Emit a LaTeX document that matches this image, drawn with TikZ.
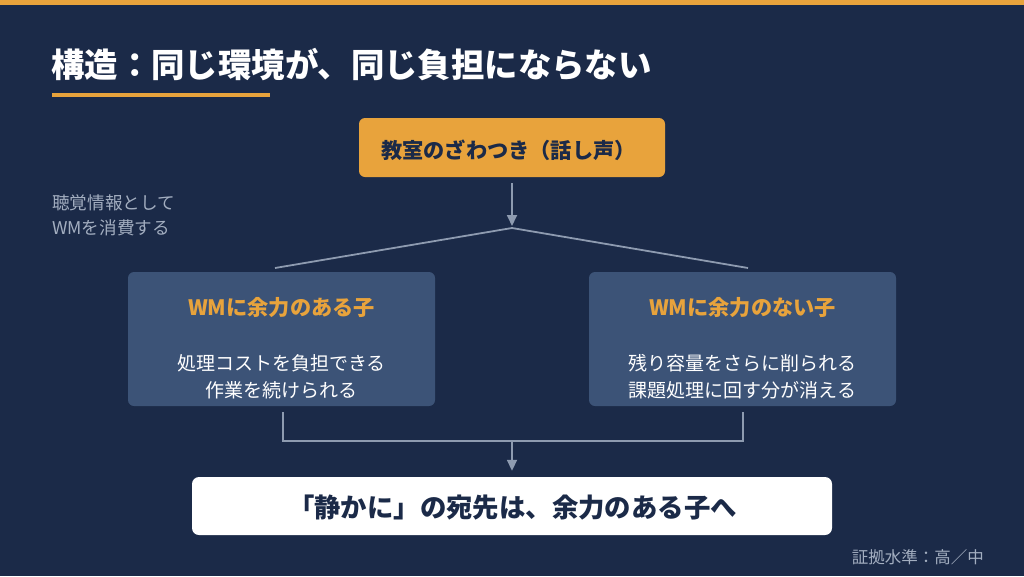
\documentclass[tikz,border=0pt]{standalone}
\usepackage{fontspec}
\setmainfont{Noto Sans CJK JP}
\newfontfamily\jp{Noto Sans CJK JP}
\usetikzlibrary{arrows.meta}
\definecolor{bgnavy}{HTML}{1B2A48}
\definecolor{accent}{HTML}{E8A33C}
\definecolor{boxblue}{HTML}{3C5377}
\definecolor{linegray}{HTML}{8E9BB0}
\definecolor{softgray}{HTML}{A3AEC0}
\tikzset{
  conn/.style={draw=linegray, line width=1.8pt},
  arr/.style={conn, -{Triangle[length=11pt,width=10pt]}},
  topbox/.style={fill=accent, rounded corners=6pt, minimum width=306pt, minimum height=59pt, inner sep=0pt},
  kidbox/.style={fill=boxblue, rounded corners=6pt, minimum width=307pt, minimum height=134pt, inner sep=0pt},
  endbox/.style={fill=white, rounded corners=7pt, minimum width=640pt, minimum height=58pt, inner sep=0pt},
  kidtitle/.style={text=accent, font=\jp\bfseries\fontsize{21.2}{24}\selectfont},
  kidbody/.style={text=white, align=center, font=\jp\fontsize{19}{27}\selectfont},
}
\begin{document}
\begin{tikzpicture}[x=1pt,y=-1pt]
\fill[bgnavy] (0,0) rectangle (1024,576);
\useasboundingbox (0,0) rectangle (1024,576);
\fill[accent] (0,0) rectangle (1024,5);
% title
\node[anchor=west, text=white, font=\jp\bfseries\fontsize{33.4}{36}\selectfont, inner sep=0pt] (title) at (51,65) {構造：同じ環境が、同じ負担にならない};
\fill[accent] (52,93) rectangle (270,96.5);
% top box
\node[topbox] (top) at (512,147.5) {};
\node[text=bgnavy, font=\jp\bfseries\fontsize{21.2}{24}\selectfont, inner sep=0pt] (toptext) at (508.5,150.5) {教室のざわつき（話し声）};
% side note
\node[anchor=north west, text=softgray, align=left, font=\jp\fontsize{17.6}{25}\selectfont, inner sep=0pt] (note) at (52,195) {聴覚情報として\\WMを消費する};
% split
\coordinate (split) at (512,228);
\coordinate (lend) at (275,268);
\coordinate (rend) at (748,268);
\draw[arr] ([yshift=-6pt]top.south) -- ([yshift=2pt]split);
\draw[conn] (lend) -- (split) -- (rend);
% kid boxes
\node[kidbox] (left) at (281.5,339) {};
\node[kidtitle] (ltitle) at (281.5,308) {WMに余力のある子};
\node[kidbody] (lbody) at (281.5,377) {処理コストを負担できる\\作業を続けられる};
\node[kidbox] (right) at (742.5,339) {};
\node[kidtitle] (rtitle) at (742.5,308) {WMに余力のない子};
\node[kidbody] (rbody) at (742.5,377) {残り容量をさらに削られる\\課題処理に回す分が消える};
% bracket
\coordinate (lb) at (283,441);
\coordinate (rb) at (743,441);
\coordinate (mb) at (512,441);
\draw[conn] ([yshift=-6pt]left.south -| lb) -- (lb) -- (rb) -- ([yshift=-6pt]right.south -| rb);
% bottom box
\node[endbox] (final) at (512,506) {};
\node[text=bgnavy, font=\jp\bfseries\fontsize{26.4}{30}\selectfont, inner sep=0pt] (finaltext) at (512.5,507.5) {「静かに」の宛先は、余力のある子へ};
\draw[arr] (mb) -- ([yshift=6pt]final.north);
% evidence
\node[anchor=east, text=softgray, font=\jp\fontsize{16.5}{20}\selectfont, inner sep=0pt] (evid) at (984,557) {証拠水準：高／中};
\end{tikzpicture}
\end{document}
